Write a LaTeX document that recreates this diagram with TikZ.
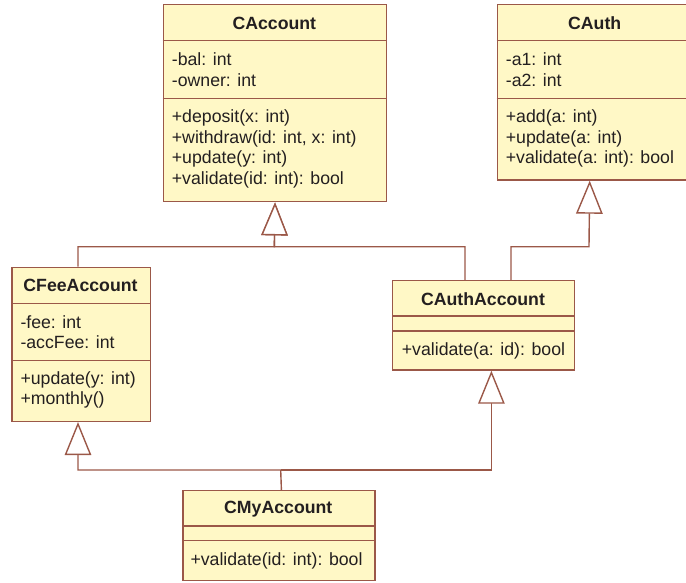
\documentclass[tikz,border=0pt]{standalone}
\usepackage{fontspec}
\setmainfont{Liberation Sans}
\usetikzlibrary{arrows.meta}
\definecolor{umlfill}{RGB}{255,248,198}
\definecolor{umlline}{RGB}{155,88,72}
\definecolor{umltext}{RGB}{35,31,32}
\newcommand\umlsize{\fontsize{17.7pt}{20.6pt}\selectfont}
\tikzset{
  clsbox/.style={draw=umlline, fill=umlfill, line width=1.4pt, rectangle, inner sep=0pt, anchor=north west},
  sepline/.style={draw=umlline, line width=1.4pt},
  clstitle/.style={font=\umlsize\bfseries, text=umltext, inner sep=0pt},
  clsbody/.style={font=\umlsize, text=umltext, inner sep=0pt, anchor=west, align=left},
  gen/.style={draw=umlline, line width=1.4pt, -{Triangle[open, length=33pt, width=26.5pt, fill=white]}}
}
\begin{document}
\begin{tikzpicture}[x=1pt, y=-1pt]
\useasboundingbox (0,0) rectangle (686,583);
\clip (0,0) rectangle (686,583);

% CAccount
\node[clsbox, minimum width=223.3pt, minimum height=197pt] (acc) at (162.7,4) {};
\draw[sepline] (acc.west |- 0,40.7) -- (acc.east |- 0,40.7);
\draw[sepline] (acc.west |- 0,98.3) -- (acc.east |- 0,98.3);
\node[clstitle] (acct) at (274.35,23) {CAccount};
\node[clsbody] (acca) at (171.7,69.8) {-bal: int\\-owner: int};
\node[clsbody] (accm) at (171.7,148.8) {+deposit(x: int)\\+withdraw(id: int, x: int)\\+update(y: int)\\+validate(id: int): bool};

% CAuth
\node[clsbox, minimum width=196pt, minimum height=175.3pt] (auth) at (496.7,4) {};
\draw[sepline] (auth.west |- 0,40.7) -- (auth.east |- 0,40.7);
\draw[sepline] (auth.west |- 0,98.3) -- (auth.east |- 0,98.3);
\node[clstitle] (autht) at (594.7,23) {CAuth};
\node[clsbody] (autha) at (505.7,69.8) {-a1: int\\-a2: int};
\node[clsbody] (authm) at (505.7,138.8) {+add(a: int)\\+update(a: int)\\+validate(a: int): bool};

% CFeeAccount
\node[clsbox, minimum width=138.4pt, minimum height=154pt] (fee) at (11.3,266.7) {};
\draw[sepline] (fee.west |- 0,303.3) -- (fee.east |- 0,303.3);
\draw[sepline] (fee.west |- 0,360.3) -- (fee.east |- 0,360.3);
\node[clstitle] (feet) at (80.5,285.5) {CFeeAccount};
\node[clsbody] (feea) at (20.3,332.3) {-fee: int\\-accFee: int};
\node[clsbody] (feem) at (20.3,389.8) {+update(y: int)\\+monthly()};

% CAuthAccount
\node[clsbox, minimum width=182pt, minimum height=89.3pt] (aa) at (392,280) {};
\draw[sepline] (aa.west |- 0,316) -- (aa.east |- 0,316);
\draw[sepline] (aa.west |- 0,331) -- (aa.east |- 0,331);
\node[clstitle] (aat) at (483,299) {CAuthAccount};
\node[clsbody] (aam) at (401.7,350.8) {+validate(a: id): bool};

% CMyAccount
\node[clsbox, minimum width=192pt, minimum height=90pt] (my) at (182.3,490) {};
\draw[sepline] (my.west |- 0,526) -- (my.east |- 0,526);
\draw[sepline] (my.west |- 0,540.7) -- (my.east |- 0,540.7);
\node[clstitle] (myt) at (278.3,509) {CMyAccount};
\node[clsbody] (mym) at (190.3,560.8) {+validate(id: int): bool};

% junctions
\coordinate (j1) at (274.35,246.7);
\coordinate (j2) at (589,246.7);
\coordinate (j3) at (280.7,470);

% generalizations
\draw[gen] ([xshift=-3.2pt]fee.north) |- (j1) -- (acc.south);
\draw[gen] ([xshift=-18.7pt]aa.north) |- (j1) -- (acc.south);
\draw[gen] ([xshift=27.3pt]aa.north) |- (j2) -- ([xshift=-5.7pt]auth.south);
\draw[gen] ([xshift=2.4pt]my.north) -- (j3) -| ([xshift=-3.2pt]fee.south);
\draw[gen] (j3) -| ([xshift=7.7pt]aa.south);
\end{tikzpicture}
\end{document}
